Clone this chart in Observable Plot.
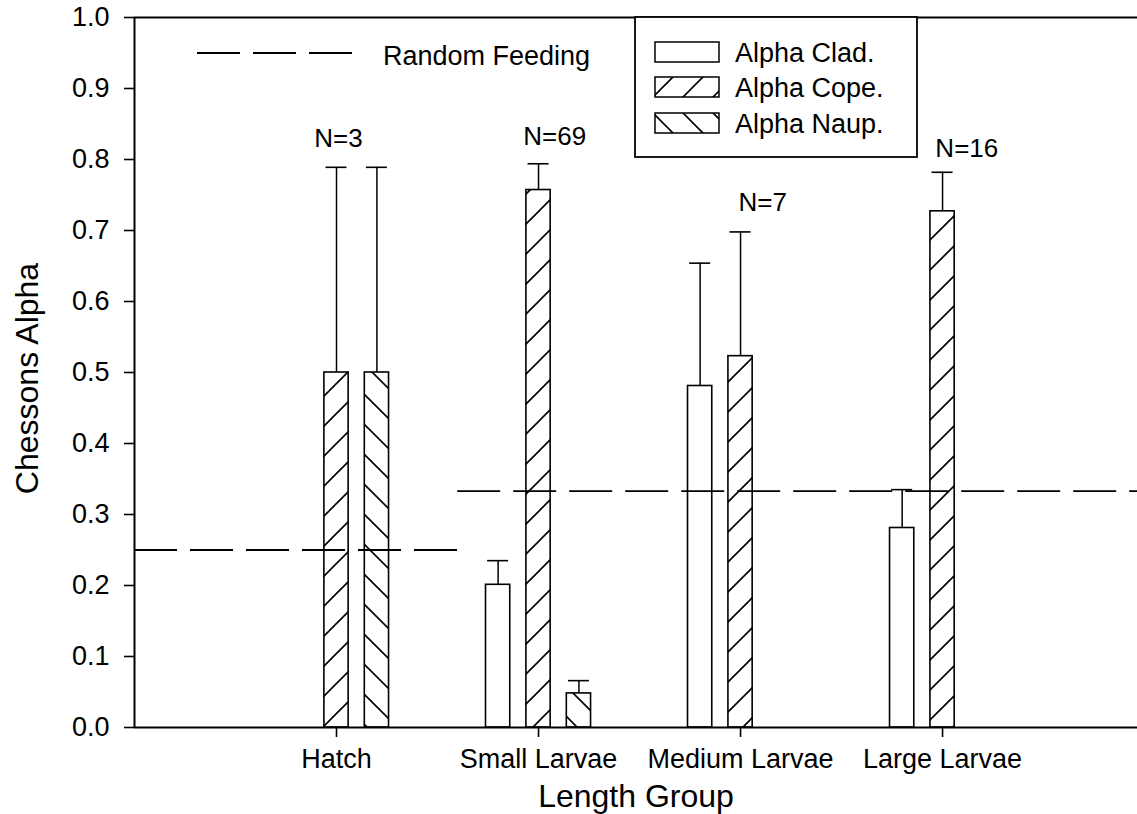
<!DOCTYPE html>
<html><head><meta charset="utf-8">
<script src="https://cdn.jsdelivr.net/npm/d3@7"></script>
<script src="https://cdn.jsdelivr.net/npm/@observablehq/plot@0.6"></script>
<style>
html,body{margin:0;padding:0;background:#fff;}
#chart{position:relative;width:1137px;height:814px;overflow:hidden;}
</style></head>
<body><div id="chart"></div>
<script>
// ---- data ----
const groups = ["Hatch", "Small Larvae", "Medium Larvae", "Large Larvae"];
const series = ["Alpha Clad.", "Alpha Cope.", "Alpha Naup."];
const cladMean  = [null, 0.201, 0.481, 0.281];
const cladUpper = [null, 0.235, 0.654, 0.335];
const copeMean  = [0.500, 0.757, 0.523, 0.727];
const copeUpper = [0.789, 0.794, 0.698, 0.782];
const naupMean  = [0.500, 0.048, null, null];
const naupUpper = [0.789, 0.066, null, null];
const nLabels = ["N=3", "N=69", "N=7", "N=16"];
const nLabelX = [1.01, 2.08, 3.11, 4.12];
const nLabelY = [0.817, 0.820, 0.727, 0.803];
const randomLevel = [0.25, 0.333];
const randomFrom = [0, 1.6];
const randomTo = [1.6, 5];
const yTicks = [0, 0.1, 0.2, 0.3, 0.4, 0.5, 0.6, 0.7, 0.8, 0.9, 1.0];
const xTicks = [1, 2, 3, 4];

// ---- layout constants ----
const seriesOffset = [-0.2, 0, 0.2];
const halfBar = 0.06;
const halfCap = 0.052;
const FONT = "'Liberation Sans', Arial, Helvetica, sans-serif";
const fills = ["white", "url(#hatchCope)", "url(#hatchNaup)"];

const means = [cladMean, copeMean, naupMean];
const uppers = [cladUpper, copeUpper, naupUpper];
const rows = [];
means.forEach((m, s) => {
  m.forEach((v, g) => {
    if (v == null) return;
    const c = g + 1 + seriesOffset[s];
    rows.push({series: series[s], s, group: groups[g], mean: v, upper: uppers[s][g],
      xc: c, x1: c - halfBar, x2: c + halfBar, c1: c - halfCap, c2: c + halfCap});
  });
});
const random = randomLevel.map((v, i) => ({y: v, x1: randomFrom[i], x2: randomTo[i]}));
const nData = nLabels.map((t, i) => ({t, x: nLabelX[i], y: nLabelY[i]}));

const svg = Plot.plot({
  width: 1137, height: 814,
  marginLeft: 134, marginRight: 0, marginTop: 17, marginBottom: 87,
  x: {domain: [0, 4.965]},
  y: {domain: [0, 1]},
  style: {fontFamily: FONT, color: "black", background: "white", overflow: "visible"},
  marks: [
    ...[0, 1, 2].map(s => Plot.rect(rows.filter(d => d.s === s), {
      x1: "x1", x2: "x2", y1: 0, y2: "mean",
      fill: fills[s], stroke: "black", strokeWidth: 1.6
    })),
    Plot.ruleX(rows, {x: "xc", y1: "mean", y2: "upper", stroke: "black", strokeWidth: 1.5}),
    Plot.ruleY(rows, {y: "upper", x1: "c1", x2: "c2", stroke: "black", strokeWidth: 1.6}),
    Plot.ruleY(random, {y: "y", x1: "x1", x2: "x2", stroke: "black", strokeWidth: 1.8, strokeDasharray: "43,13"}),
    Plot.ruleX([0], {y1: 0, y2: 1, stroke: "black", strokeWidth: 2}),
    Plot.ruleY([0, 1], {stroke: "black", strokeWidth: 2}),
    Plot.text(nData, {x: "x", y: "y", text: "t", lineAnchor: "bottom", fontSize: 26, fill: "black"}),
    Plot.axisY({ticks: yTicks, tickFormat: d3.format(".1f"), tickSize: 10, tickPadding: 15,
      fontSize: 27, label: null, strokeWidth: 1.6}),
    Plot.axisX({ticks: xTicks, tickFormat: i => groups[i - 1], tickSize: 10, tickPadding: 11,
      fontSize: 27, label: null, strokeWidth: 1.6}),
    Plot.text(["Chessons Alpha"], {frameAnchor: "left", textAnchor: "middle", rotate: -90, dx: -107, dy: 6,
      fontSize: 32, lineAnchor: "middle", fill: "black"}),
    Plot.text(["Length Group"], {frameAnchor: "bottom", textAnchor: "middle", dy: 69, fontSize: 32, lineAnchor: "middle", fill: "black"})
  ]
});

// hatch patterns
const root = d3.select(svg);
const defs = root.insert("defs", ":first-child");
const pc = defs.append("pattern").attr("id", "hatchCope").attr("patternUnits", "userSpaceOnUse")
  .attr("width", 30).attr("height", 30);
pc.append("rect").attr("width", 30).attr("height", 30).attr("fill", "white");
pc.append("path").attr("d", "M-5,5L5,-5M0,30L30,0M25,35L35,25").attr("stroke", "black").attr("stroke-width", 1.6);
const pn = defs.append("pattern").attr("id", "hatchNaup").attr("patternUnits", "userSpaceOnUse")
  .attr("width", 30).attr("height", 30);
pn.append("rect").attr("width", 30).attr("height", 30).attr("fill", "white");
pn.append("path").attr("d", "M0,0L30,30M-5,25L5,35M25,-5L35,5").attr("stroke", "black").attr("stroke-width", 1.6);

// legends
const lg = root.append("g").attr("font-family", FONT).attr("fill", "black").attr("text-anchor", "start");
lg.append("line").attr("x1", 197).attr("x2", 352).attr("y1", 53).attr("y2", 53)
  .attr("stroke", "black").attr("stroke-width", 1.8).attr("stroke-dasharray", "43,13");
lg.append("text").attr("x", 383).attr("y", 65).attr("font-size", 27).attr("text-anchor", "start").text("Random Feeding");
lg.append("rect").attr("x", 635).attr("y", 17).attr("width", 282).attr("height", 140)
  .attr("fill", "white").attr("stroke", "black").attr("stroke-width", 1.8);
const rowsY = [42, 77, 113];
series.forEach((name, i) => {
  lg.append("rect").attr("x", 655).attr("y", rowsY[i]).attr("width", 64).attr("height", 20)
    .attr("fill", fills[i]).attr("stroke", "black").attr("stroke-width", 1.5);
  lg.append("text").attr("x", 735).attr("y", rowsY[i] + 20).attr("font-size", 27)
    .attr("text-anchor", "start").text(name);
});

document.getElementById("chart").appendChild(svg);
</script>
</body></html>
